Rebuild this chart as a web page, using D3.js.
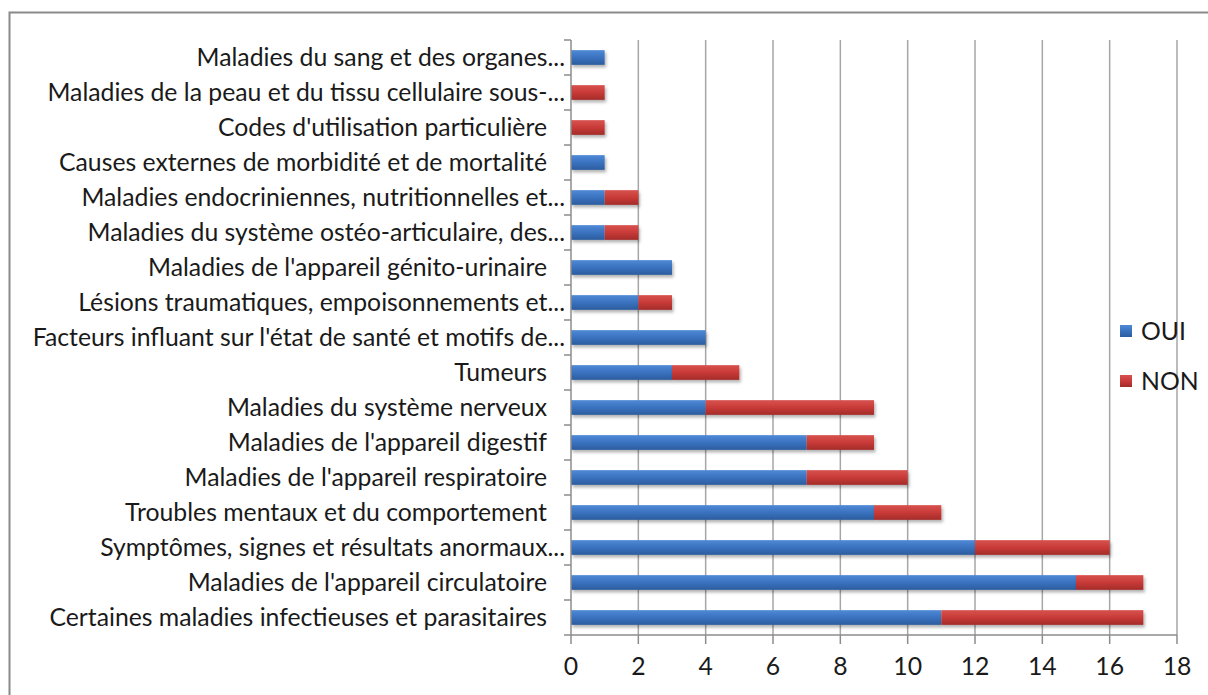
<!DOCTYPE html>
<html>
<head>
<meta charset="utf-8">
<script src="https://cdn.jsdelivr.net/npm/d3@7"></script>
<style>
  body { margin: 0; background: #fff; }
  text { font-family: Lato, "Open Sans", sans-serif; fill: #1a1a1a; }
</style>
</head>
<body>
<svg width="1208" height="695"></svg>
<script>
// labels keep Excel's trailing space; it is drawn as a gap before the axis
const categories = [
  "Maladies du sang et des organes...",
  "Maladies de la peau et du tissu cellulaire sous-...",
  "Codes d'utilisation particulière ",
  "Causes externes de morbidité et de mortalité ",
  "Maladies endocriniennes, nutritionnelles et...",
  "Maladies du système ostéo-articulaire, des...",
  "Maladies de l'appareil génito-urinaire ",
  "Lésions traumatiques, empoisonnements et...",
  "Facteurs influant sur l'état de santé et motifs de...",
  "Tumeurs ",
  "Maladies du système nerveux ",
  "Maladies de l'appareil digestif ",
  "Maladies de l'appareil respiratoire ",
  "Troubles mentaux et du comportement ",
  "Symptômes, signes et résultats anormaux...",
  "Maladies de l'appareil circulatoire ",
  "Certaines maladies infectieuses et parasitaires "
];
const oui = [1, 0, 0, 1, 1, 1, 3, 2, 4, 3, 4, 7, 7, 9, 12, 15, 11];
const non = [0, 1, 1, 0, 1, 1, 0, 1, 0, 2, 5, 2, 3, 2, 4, 2, 6];
const seriesNames = ["OUI", "NON"];
const xTicks = [0, 2, 4, 6, 8, 10, 12, 14, 16, 18];

const svg = d3.select("svg");

// Outer chart frame
svg.append("rect")
  .attr("x", 9.5).attr("y", 12.5)
  .attr("width", 1230).attr("height", 720)
  .attr("fill", "none").attr("stroke", "#8a8a8a").attr("stroke-width", 2);

const margin = { left: 571, right: 31, top: 40, bottom: 60 };
const W = 1208, H = 695;

const x = d3.scaleLinear().domain([0, 18]).range([margin.left, W - margin.right]);
const y = d3.scaleBand().domain(categories).range([margin.top, H - margin.bottom]).paddingInner(0.58).paddingOuter(0.29);

// size the text so the longest label spans about what it does in the picture
const probe = svg.append("text").attr("font-size", 20).text("Certaines maladies infectieuses et parasitaires");
const fs = 20 * 498 / probe.node().getComputedTextLength();
probe.remove();

// Gradients + shadow
const defs = svg.append("defs");
const grads = { OUI: ["#4f8ad6", "#3a72bf", "#2c5c9e"], NON: ["#d8524f", "#c83b38", "#a32b29"] };
for (const [k, c] of Object.entries(grads)) {
  const lg = defs.append("linearGradient").attr("id", "g" + k).attr("x1", 0).attr("x2", 0).attr("y1", 0).attr("y2", 1);
  lg.append("stop").attr("offset", "0%").attr("stop-color", c[0]);
  lg.append("stop").attr("offset", "50%").attr("stop-color", c[1]);
  lg.append("stop").attr("offset", "100%").attr("stop-color", c[2]);
}
const f = defs.append("filter").attr("id", "shadow").attr("x", "-10%").attr("y", "-30%").attr("width", "130%").attr("height", "200%");
f.append("feDropShadow").attr("dx", 1.5).attr("dy", 2.5).attr("stdDeviation", 1.5).attr("flood-color", "#000").attr("flood-opacity", 0.3);

// Gridlines
svg.append("g").selectAll("line").data(xTicks.slice(1)).join("line")
  .attr("x1", d => x(d)).attr("x2", d => x(d))
  .attr("y1", margin.top).attr("y2", H - margin.bottom)
  .attr("stroke", "#a6a6a6").attr("stroke-width", 1.5);

// Bars
const stackData = categories.map((c, i) => ({ cat: c, OUI: oui[i], NON: non[i] }));
const stacked = d3.stack().keys(seriesNames)(stackData);
svg.append("g").selectAll("g").data(stacked).join("g")
  .attr("fill", d => `url(#g${d.key})`)
  .selectAll("rect").data(d => d.filter(p => p[1] > p[0])).join("rect")
  .attr("x", d => x(d[0])).attr("width", d => x(d[1]) - x(d[0]))
  .attr("y", d => y(d.data.cat)).attr("height", y.bandwidth())
  .attr("filter", "url(#shadow)");

// Y axis
const yAxis = svg.append("g").attr("transform", `translate(${margin.left},0)`);
yAxis.append("line").attr("x1", 0).attr("x2", 0).attr("y1", margin.top).attr("y2", H - margin.bottom)
  .attr("stroke", "#8c8c8c").attr("stroke-width", 1.5);
const bounds = d3.range(categories.length + 1).map(i => margin.top + i * y.step());
yAxis.selectAll("line.t").data(bounds).join("line").attr("class", "t")
  .attr("x1", -7).attr("x2", 0).attr("y1", d => d).attr("y2", d => d)
  .attr("stroke", "#8c8c8c").attr("stroke-width", 1.5);
yAxis.selectAll("text").data(categories).join("text")
  .attr("x", d => d.endsWith(" ") ? -24 : -6)
  .attr("y", d => y(d) + y.bandwidth() / 2)
  .attr("dy", "0.35em").attr("text-anchor", "end")
  .attr("font-size", fs).text(d => d.trim());

// X axis
const xAxis = svg.append("g").attr("transform", `translate(0,${H - margin.bottom})`);
xAxis.append("line").attr("x1", margin.left).attr("x2", W - margin.right)
  .attr("stroke", "#8c8c8c").attr("stroke-width", 1.5);
xAxis.selectAll("line.t").data(xTicks).join("line").attr("class", "t")
  .attr("x1", d => x(d)).attr("x2", d => x(d)).attr("y1", 0).attr("y2", 9)
  .attr("stroke", "#8c8c8c").attr("stroke-width", 1.5);
xAxis.selectAll("text").data(xTicks).join("text")
  .attr("x", d => x(d)).attr("y", 31).attr("dy", "0.35em")
  .attr("text-anchor", "middle").attr("font-size", fs).text(d => d);

// Legend
const legend = svg.append("g").selectAll("g").data(seriesNames).join("g")
  .attr("transform", (d, i) => `translate(1120,${325 + i * 50})`);
legend.append("rect").attr("width", 12).attr("height", 12).attr("fill", d => `url(#g${d})`);
legend.append("text").attr("x", 21).attr("y", 6).attr("dy", "0.35em").attr("font-size", fs).text(d => d);
</script>
</body>
</html>
